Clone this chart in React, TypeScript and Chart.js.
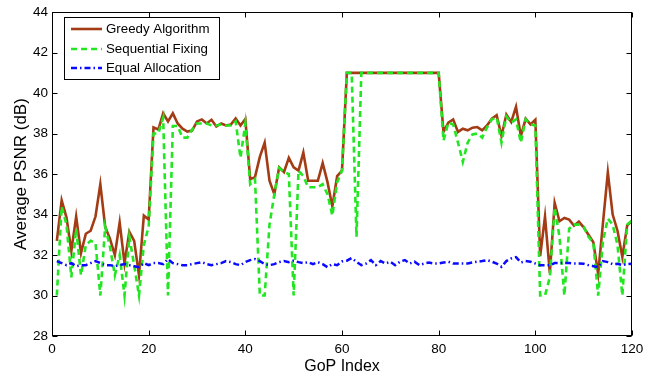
import React, { useEffect, useRef } from "react";
import { Chart, registerables } from "chart.js";

Chart.register(...registerables);

const X_TICKS = [0, 20, 40, 60, 80, 100, 120];
const Y_TICKS = [28, 30, 32, 34, 36, 38, 40, 42, 44];

const GOP_INDEX = Array.from({ length: 120 }, (_, i) => i + 1);

const GREEDY = [
  32.7, 34.7, 33.85, 32.2, 33.9, 32.1, 33.05, 33.2, 33.9, 35.5,
  33.4, 32.8, 32.0, 33.6, 31.6, 33.15, 32.7, 31.0, 33.95, 33.75,
  38.3, 38.2, 39.0, 38.6, 39.0, 38.5, 38.24, 38.1, 38.15, 38.6,
  38.7, 38.5, 38.68, 38.35, 38.5, 38.4, 38.45, 38.75, 38.4, 38.72,
  35.75, 35.85, 36.85, 37.55, 35.67, 35.0, 36.33, 36.1, 36.8, 36.33,
  36.17, 37.06, 35.67, 35.67, 35.67, 36.54, 35.6, 34.4, 35.9, 36.17,
  41.0, 41.0, 41.0, 41.0, 41.0, 41.0, 41.0, 41.0, 41.0, 41.0,
  41.0, 41.0, 41.0, 41.0, 41.0, 41.0, 41.0, 41.0, 41.0, 41.0,
  38.08, 38.54, 38.7, 38.08, 38.24, 38.16, 38.29, 38.32, 38.16, 38.4,
  38.73, 38.91, 37.88, 38.94, 38.57, 39.32, 37.88, 38.73, 38.45, 38.68,
  31.95, 33.9, 31.1, 34.57, 33.67, 33.83, 33.75, 33.45, 33.65, 33.37,
  33.0, 32.63, 31.07, 33.6, 36.08, 34.0, 33.2, 31.9, 33.45, 33.7,
];

const SEQUENTIAL = [
  30.0, 34.4, 33.5, 30.9, 33.3, 31.0, 32.5, 32.7, 32.6, 30.0,
  33.4, 32.4, 31.0, 32.0, 30.0, 32.9, 31.5, 30.0, 32.5, 33.4,
  38.0, 38.0, 38.78, 30.0, 38.37, 38.37, 37.8, 37.8, 38.2, 38.5,
  38.5, 38.5, 38.4, 38.4, 38.45, 38.4, 38.4, 38.6, 36.8, 38.5,
  35.5, 35.75, 30.0, 30.0, 33.5, 35.0, 36.3, 36.1, 36.0, 30.0,
  36.17, 35.9, 35.35, 35.35, 35.35, 35.5, 35.0, 33.95, 35.6, 36.17,
  41.0, 41.0, 32.9, 41.0, 41.0, 41.0, 41.0, 41.0, 41.0, 41.0,
  41.0, 41.0, 41.0, 41.0, 41.0, 41.0, 41.0, 41.0, 41.0, 41.0,
  37.65, 38.54, 38.45, 37.55, 36.6, 37.55, 37.96, 38.0, 37.8, 38.3,
  38.7, 38.8, 37.55, 38.85, 38.54, 38.7, 37.55, 38.7, 38.45, 38.4,
  30.0, 30.0, 30.9, 34.35, 32.9, 30.0, 33.3, 33.5, 33.5, 33.4,
  32.9, 32.6, 30.0, 32.7, 33.8, 33.5, 32.5, 30.0, 33.5, 33.7,
];

const EQUAL = [
  31.7, 31.6, 31.5, 31.6, 31.45, 31.5, 31.5, 31.6, 31.7, 31.6,
  31.5, 31.5, 31.45, 31.5, 31.55, 31.5, 31.45, 31.4, 31.6, 31.5,
  31.6, 31.6, 31.55, 31.8, 31.6, 31.55, 31.5, 31.5, 31.55, 31.6,
  31.65, 31.55, 31.5, 31.55, 31.6, 31.7, 31.65, 31.55, 31.5, 31.65,
  31.75, 31.8, 31.7, 31.55, 31.5, 31.55, 31.65, 31.7, 31.65, 31.72,
  31.65, 31.6, 31.65, 31.55, 31.65, 31.55, 31.4, 31.55, 31.5, 31.68,
  31.72, 31.85, 31.67, 31.5, 31.58, 31.75, 31.5, 31.7, 31.58, 31.67,
  31.5, 31.67, 31.75, 31.58, 31.67, 31.5, 31.58, 31.63, 31.58, 31.58,
  31.63, 31.67, 31.58, 31.58, 31.58, 31.58, 31.63, 31.67, 31.7, 31.75,
  31.67, 31.58, 31.42, 31.7, 31.83, 31.9, 31.63, 31.7, 31.67, 31.58,
  31.5, 31.5, 31.5, 31.6, 31.6, 31.6, 31.6, 31.58, 31.58, 31.57,
  31.5, 31.45, 31.4, 31.7, 31.65, 31.55, 31.57, 31.5, 31.55, 31.57,
];

const SERIES = [
  { label: "Greedy Algorithm", data: GREEDY, color: "#A33C14", dash: [] as number[], width: 2.6 },
  { label: "Sequential Fixing", data: SEQUENTIAL, color: "#22E622", dash: [6, 4], width: 2.6 },
  { label: "Equal Allocation", data: EQUAL, color: "#0A0AFF", dash: [6, 3, 1.5, 3], width: 2.5 },
];

const FONT = "'Liberation Sans', Arial, Helvetica, sans-serif";

const framePlugin = {
  id: "frameAndLegend",
  afterDatasetsDraw(chart: any) {
    const { ctx, chartArea, scales } = chart;
    const { left, right, top, bottom } = chartArea;
    ctx.save();
    ctx.strokeStyle = "#000";
    ctx.lineWidth = 1;
    ctx.setLineDash([]);
    const L = Math.round(left) + 0.5;
    const R = Math.round(right) - 0.5;
    const T = Math.round(top) + 0.5;
    const B = Math.round(bottom) - 0.5;
    ctx.strokeRect(L, T, R - L, B - T);
    const tl = 5;
    ctx.beginPath();
    for (const v of X_TICKS) {
      const x = Math.round(scales.x.getPixelForValue(v)) + 0.5;
      ctx.moveTo(x, B);
      ctx.lineTo(x, B - tl);
      ctx.moveTo(x, T);
      ctx.lineTo(x, T + tl);
    }
    for (const v of Y_TICKS) {
      const y = Math.round(scales.y.getPixelForValue(v)) + 0.5;
      ctx.moveTo(L, y);
      ctx.lineTo(L + tl, y);
      ctx.moveTo(R, y);
      ctx.lineTo(R - tl, y);
    }
    ctx.stroke();

    // legend
    const bx = 64.5, by = 17.5, bw = 155, bh = 62;
    ctx.fillStyle = "#fff";
    ctx.fillRect(bx, by, bw, bh);
    ctx.strokeStyle = "#000";
    ctx.strokeRect(bx, by, bw, bh);
    const rows = [29, 49, 68];
    ctx.font = `13.3px ${FONT}`;
    ctx.textBaseline = "middle";
    SERIES.forEach((s, i) => {
      const y = rows[i];
      ctx.strokeStyle = s.color;
      ctx.lineWidth = s.width;
      ctx.setLineDash(s.dash);
      ctx.beginPath();
      ctx.moveTo(71, y);
      ctx.lineTo(102, y);
      ctx.stroke();
      ctx.setLineDash([]);
      ctx.fillStyle = "#000";
      ctx.fillText(s.label, 106, y + 0.5);
    });
    ctx.restore();
  },
};

export default function App() {
  const ref = useRef<HTMLCanvasElement | null>(null);
  useEffect(() => {
    if (!ref.current) return;
    const chart = new Chart(ref.current, {
      type: "line",
      data: {
        datasets: SERIES.map((s, i) => ({
          label: s.label,
          data: s.data.map((v, j) => ({ x: GOP_INDEX[j], y: v })),
          borderColor: s.color,
          backgroundColor: s.color,
          borderWidth: s.width,
          borderDash: s.dash,
          pointRadius: 0,
          tension: 0,
          fill: false,
          order: 3 - i,
        })),
      },
      options: {
        animation: false,
        responsive: false,
        maintainAspectRatio: false,
        layout: { padding: { left: 9, right: 27, top: 11, bottom: 0 } },
        plugins: { legend: { display: false }, tooltip: { enabled: false } },
        scales: {
          x: {
            type: "linear",
            min: 0,
            max: 120,
            afterBuildTicks: (s: any) => {
              s.ticks = X_TICKS.map((v) => ({ value: v }));
            },
            afterFit: (s: any) => {
              s.height = 41;
            },
            grid: { display: false, drawTicks: false },
            border: { display: false },
            ticks: { color: "#000", font: { family: FONT, size: 13.5 }, padding: 5, maxRotation: 0 },
            title: {
              display: true,
              text: "GoP Index",
              color: "#000",
              font: { family: FONT, size: 16 },
              padding: { top: 0, bottom: 0.5 },
            },
          },
          y: {
            type: "linear",
            min: 28,
            max: 44,
            afterBuildTicks: (s: any) => {
              s.ticks = Y_TICKS.map((v) => ({ value: v }));
            },
            afterFit: (s: any) => {
              s.width = 43;
            },
            grid: { display: false, drawTicks: false },
            border: { display: false },
            ticks: { color: "#000", font: { family: FONT, size: 13.5 }, padding: 4 },
            title: {
              display: true,
              text: "Average PSNR (dB)",
              color: "#000",
              font: { family: FONT, size: 17 },
              padding: { top: 2, bottom: 0 },
            },
          },
        },
      },
      plugins: [framePlugin],
    });
    return () => chart.destroy();
  }, []);
  return (
    <div style={{ position: "fixed", left: 0, top: 0, width: 659, height: 377, background: "#fff" }}>
      <canvas ref={ref} width={659} height={377} style={{ width: 659, height: 377, display: "block" }} />
    </div>
  );
}
